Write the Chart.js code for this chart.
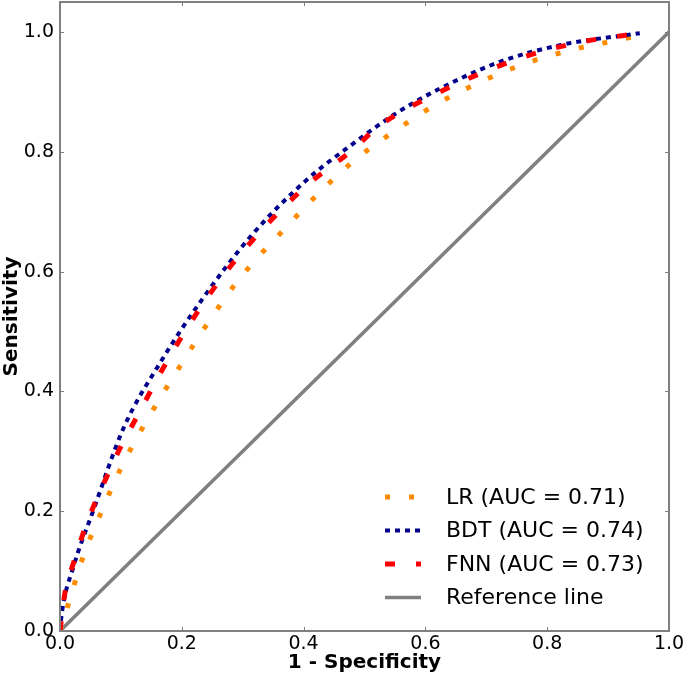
<!DOCTYPE html>
<html>
<head>
<meta charset="utf-8">
<script src="https://cdn.jsdelivr.net/npm/chart.js@4/dist/chart.umd.min.js"></script>
<style>
  html, body { margin: 0; padding: 0; background: #fff; }
  #wrap { width: 685px; height: 678px; position: relative; }
</style>
</head>
<body>
<div id="wrap"><canvas id="grafico"></canvas></div>
<script>
// ROC curves (x = 1 - specificity, y = sensitivity)
const lrX  = [0, 0.014, 0.038, 0.068, 0.101, 0.140, 0.202, 0.246, 0.293, 0.375, 0.430, 0.490, 0.556, 0.621, 0.698, 0.772, 0.848, 0.928, 0.963];
const lrY  = [0, 0.046, 0.124, 0.199, 0.274, 0.347, 0.450, 0.519, 0.586, 0.678, 0.736, 0.791, 0.839, 0.881, 0.920, 0.950, 0.972, 0.989, 0.998];
const bdtX = [0, 0.003, 0.022, 0.055, 0.104, 0.167, 0.233, 0.315, 0.405, 0.482, 0.547, 0.619, 0.722, 0.821, 0.952];
const bdtY = [0, 0.030, 0.107, 0.202, 0.338, 0.452, 0.553, 0.661, 0.753, 0.814, 0.861, 0.903, 0.950, 0.978, 0.998];
const fnnX = [0, 0.008, 0.022, 0.038, 0.057, 0.078, 0.100, 0.125, 0.170, 0.230, 0.293, 0.400, 0.484, 0.520, 0.620, 0.755, 0.850, 0.960];
const fnnY = [0, 0.063, 0.113, 0.163, 0.213, 0.260, 0.308, 0.355, 0.440, 0.539, 0.625, 0.739, 0.806, 0.840, 0.898, 0.956, 0.982, 0.999];
const refX = [0, 1];
const refY = [0, 1];

const etiquetas = ['LR (AUC = 0.71)', 'BDT (AUC = 0.74)', 'FNN (AUC = 0.73)', 'Reference line'];
const xTicks = [0, 0.2, 0.4, 0.6, 0.8, 1.0];
const yTicks = [0, 0.2, 0.4, 0.6, 0.8, 1.0];

const FUENTE = '"DejaVu Sans", sans-serif';
const GRIS = '#808080';

function puntos(xs, ys) { return xs.map((x, i) => ({ x: x, y: ys[i] })); }

// Marco, ticks hacia dentro y leyenda propia (con los dashes de cada serie)
const decoracion = {
    id: 'decoracion',
    afterDatasetsDraw(chart) {
        const ctx = chart.ctx; const a = chart.chartArea;
        const sx = chart.scales.x; const sy = chart.scales.y;
        ctx.save();
        ctx.strokeStyle = GRIS; ctx.lineWidth = 2; ctx.setLineDash([]);
        ctx.strokeRect(a.left, a.top, a.right - a.left, a.bottom - a.top);
        ctx.lineWidth = 1;
        ctx.beginPath();
        xTicks.forEach(v => {
            let px = Math.round(sx.getPixelForValue(v)) + 0.5;
            ctx.moveTo(px, a.bottom); ctx.lineTo(px, a.bottom - 4);
            ctx.moveTo(px, a.top); ctx.lineTo(px, a.top + 4);
        });
        yTicks.forEach(v => {
            let py = Math.round(sy.getPixelForValue(v)) + 0.5;
            ctx.moveTo(a.left, py); ctx.lineTo(a.left + 4, py);
            ctx.moveTo(a.right, py); ctx.lineTo(a.right - 4, py);
        });
        ctx.stroke();

        // leyenda
        let x0 = a.left + 325, y0 = a.top + 495;
        ctx.font = '22px ' + FUENTE; ctx.textBaseline = 'middle'; ctx.fillStyle = '#000';
        chart.data.datasets.forEach((ds, i) => {
            let y = y0 + i * 33.5;
            ctx.strokeStyle = ds.borderColor; ctx.lineWidth = ds.borderWidth;
            ctx.setLineDash(ds.borderDash || []);
            ctx.beginPath(); ctx.moveTo(x0, y); ctx.lineTo(x0 + 36, y); ctx.stroke();
            ctx.setLineDash([]);
            ctx.fillText(ds.label, x0 + 61, y + 1);
        });
        ctx.restore();
    }
};

const serie = (label, data, color, width, dash, orden) => ({
    label: label, data: data, borderColor: color, backgroundColor: color,
    borderWidth: width, borderDash: dash, pointRadius: 0, showLine: true,
    cubicInterpolationMode: 'monotone', fill: false, order: orden, borderCapStyle: 'butt'
});

new Chart(document.getElementById('grafico'), {
    type: 'scatter',
    data: {
        datasets: [
            serie(etiquetas[0], puntos(lrX, lrY), '#ff8c00', 5, [5, 19], 2),
            serie(etiquetas[1], puntos(bdtX, bdtY), '#00008b', 4, [5, 5], 1),
            serie(etiquetas[2], puntos(fnnX, fnnY), '#ff0000', 5, [10, 21], 0),
            serie(etiquetas[3], puntos(refX, refY), GRIS, 3.5, [], 3)
        ]
    },
    options: {
        responsive: true, maintainAspectRatio: false, animation: false,
        layout: { padding: { top: 2, right: 16, left: 0, bottom: 0 } },
        plugins: { legend: { display: false }, tooltip: { enabled: false } },
        scales: {
            x: {
                type: 'linear', min: 0, max: 1,
                afterBuildTicks: ax => { ax.ticks = xTicks.map(v => ({ value: v })); },
                afterFit: ax => { ax.height = 47; ax.paddingLeft = 0; ax.paddingRight = 0; },
                grid: { display: false, drawTicks: false }, border: { display: false },
                ticks: { color: '#000', padding: 2, maxRotation: 0, font: { family: FUENTE, size: 19 }, callback: v => v.toFixed(1) },
                title: { display: true, text: '1 - Specificity', color: '#000', padding: { top: 0, bottom: 3 }, font: { family: FUENTE, size: 20, weight: 'bold' } }
            },
            y: {
                type: 'linear', min: 0, max: 1.05,
                afterBuildTicks: ax => { ax.ticks = yTicks.map(v => ({ value: v })); },
                afterFit: ax => { ax.width = 60; ax.paddingTop = 0; ax.paddingBottom = 0; },
                grid: { display: false, drawTicks: false }, border: { display: false },
                ticks: { color: '#000', padding: 6, font: { family: FUENTE, size: 19 }, callback: v => v.toFixed(1) },
                title: { display: true, text: 'Sensitivity', color: '#000', padding: { top: 0, bottom: 0 }, font: { family: FUENTE, size: 20, weight: 'bold' } }
            }
        }
    },
    plugins: [decoracion]
});
</script>
</body>
</html>
